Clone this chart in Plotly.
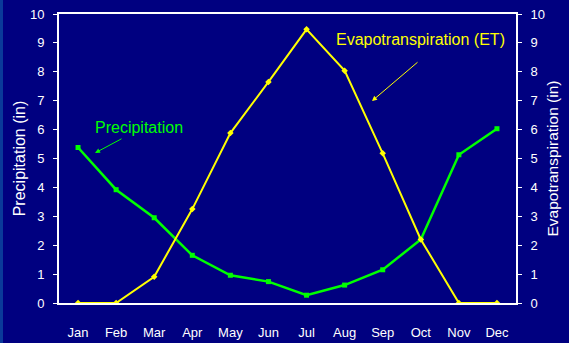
import plotly.graph_objects as go

months = ["Jan", "Feb", "Mar", "Apr", "May", "Jun", "Jul", "Aug", "Sep", "Oct", "Nov", "Dec"]
precipitation = [5.38, 3.92, 2.95, 1.65, 0.96, 0.74, 0.27, 0.62, 1.15, 2.2, 5.13, 6.03]
evapotranspiration = [0, 0, 0.91, 3.25, 5.88, 7.65, 9.47, 8.04, 5.18, 2.2, 0, 0]
y_ticks = list(range(0, 11))

BG = "#000080"
FONT = "Liberation Sans Narrow, Arial Narrow, Liberation Sans, Arial"
TFONT = "Liberation Sans, Arial"

fig = go.Figure()
fig.add_trace(go.Scatter(x=months, y=precipitation, mode="lines+markers",
                         line=dict(color="#00FF00", width=2.5),
                         marker=dict(symbol="square", size=5, color="#00FF00"),
                         name="Precipitation", yaxis="y"))
fig.add_trace(go.Scatter(x=months, y=evapotranspiration, mode="lines+markers",
                         line=dict(color="#FFFF00", width=2),
                         marker=dict(symbol="diamond", size=5, color="#FFFF00"),
                         name="Evapotranspiration (ET)", yaxis="y2"))

axis_font = dict(family=FONT, size=13, color="#FFFFFF")
fig.update_layout(
    width=569, height=343,
    margin=dict(l=59, r=53, t=14, b=40, autoexpand=False),
    paper_bgcolor=BG, plot_bgcolor=BG,
    showlegend=False,
    xaxis=dict(type="category", range=[-0.5, 11.5], showgrid=False, zeroline=False,
               automargin=False,
               showline=True, linecolor="#FFFFFF", linewidth=2, mirror=True,
               ticks="", tickfont=dict(family=FONT, size=13, color="#FFFFFF"),
               ticklabelstandoff=16),
    yaxis=dict(range=[0, 10], tickvals=y_ticks, showgrid=False, zeroline=False,
               automargin=False,
               showline=True, linecolor="#FFFFFF", linewidth=2,
               ticks="outside", ticklen=4, tickcolor="#FFFFFF", tickwidth=1,
               tickfont=axis_font, ticklabelstandoff=6,
               title=dict(text="Precipitation (in)", standoff=0,
                          font=dict(family=TFONT, size=16, color="#FFFFFF"))),
    yaxis2=dict(range=[0, 10], tickvals=y_ticks, overlaying="y", side="right",
                showgrid=False, zeroline=False, automargin=False,
                showline=True, linecolor="#FFFFFF", linewidth=2,
                ticks="outside", ticklen=4, tickcolor="#FFFFFF", tickwidth=1,
                tickfont=axis_font, ticklabelstandoff=6,
                title=dict(text="Evapotranspiration (in)", standoff=3,
                           font=dict(family=TFONT, size=15.5, color="#FFFFFF"))),
)

W = 569 - 59 - 53
H = 343 - 14 - 40

def dx(px):
    return (px - 59) / W

def dy(py):
    return (343 - 40 - py) / H

fig.add_shape(type="rect", xref="paper", yref="paper", x0=dx(0), x1=dx(3), y0=dy(343), y1=dy(0),
              fillcolor="#0A3A9A", line=dict(width=0), layer="below")

fig.add_annotation(text="Precipitation", x=dx(139), y=dy(127), xref="x domain", yref="y domain",
                   xanchor="center", yanchor="middle",
                   showarrow=False, font=dict(family=TFONT, size=16, color="#00FF00"))
fig.add_annotation(text="", x=dx(95), y=dy(153), ax=dx(123), ay=dy(138),
                   xref="x domain", yref="y domain", axref="x domain", ayref="y domain",
                   showarrow=True, arrowhead=2, arrowsize=1, arrowwidth=1, arrowcolor="#00FF00")
fig.add_annotation(text="Evapotranspiration (ET)", x=dx(420), y=dy(39), xref="x domain", yref="y domain",
                   xanchor="center", yanchor="middle",
                   showarrow=False, font=dict(family=TFONT, size=16, color="#FFFF00"))
fig.add_annotation(text="", x=dx(372), y=dy(101), ax=dx(419), ay=dy(61),
                   xref="x domain", yref="y domain", axref="x domain", ayref="y domain",
                   showarrow=True, arrowhead=2, arrowsize=1, arrowwidth=1, arrowcolor="#FFFF00")

fig.write_html("out.html")
